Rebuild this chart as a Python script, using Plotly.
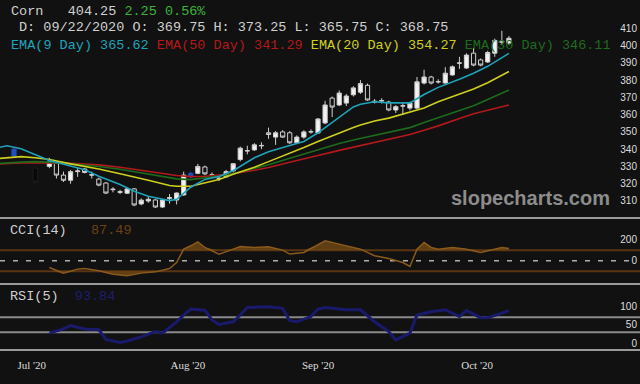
import numpy as np
import plotly.graph_objects as go

# ---------------- data ----------------
bar_idx = list(range(71))
bar_open = [336, None, None, 329, None, 330, 332, 325, 322, 327,
            328.5, 325.3, 322.7, 320.4, 316.9, 315.5, 314.5, 317, 308.3, 310,
            310.6, 306.5, 311.5, 310.6, 313.5, 324, 326, 329.7, 325.2, 323.2,
            324, 327.4, 334, 339.2, 339.6, 342.2, 349.5, 347, 350, 349.5,
            343.7, 347, 350.2, 349.4, 355.2, 369.6, 365.6, 366.7, 371.5, 373,
            377, 367.8, 368.2, 367.3, 362.7, 365.2, 363.8, 363.8, 378.3, 381.8,
            379.2, 378.3, 383, 390, 387, 395.6, 391.7, 390.5, 395.6, 402.5, 401.5]
bar_high = [341, None, None, 330, None, 335, 333, 327, 328, 329,
            329, 327, 323.5, 321, 318, 316.5, 318, 317.5, 311.5, 312.5,
            311, 311, 314, 315, 327, 327, 331.5, 330.5, 326.5, 324.5,
            328, 332, 341.5, 342, 343.5, 344, 352.5, 350.5, 351, 350.5,
            348, 351, 351.5, 358, 368, 370.5, 374, 372, 376.5, 380,
            378, 369, 369.5, 368, 365.5, 366.7, 367.5, 381.8, 386, 382.5,
            380.5, 387.5, 388.5, 393.5, 395.5, 398.5, 392.5, 397, 404, 408.6, 405.5]
bar_low = [335, None, None, 320, None, 329, 323, 321, 320, 324,
           326, 323, 318.5, 314, 315, 314, 314, 307, 307.5, 309,
           306, 306, 308.5, 308, 313, 323, 325.5, 325, 323.5, 321.5,
           323.5, 326.5, 333, 337, 339, 340, 346, 342.5, 346.5, 343,
           343, 346, 349, 349, 354.5, 358.6, 365, 365, 370.5, 372,
           368, 366.5, 366.5, 362, 361, 359.8, 362.5, 363, 377.5, 377.5,
           378, 378, 382.5, 386.5, 386.5, 388, 388, 390, 393.5, 400.5, 400.5]
bar_close = [340, None, None, 321, None, 333, 325, 322, 327, 327.4,
             326.5, 325, 319.2, 314.6, 316.6, 315, 317, 307.7, 310.5, 311,
             306.5, 310.6, 312, 314.6, 325, 326, 330, 325.7, 325, 323,
             327, 331.6, 340.6, 339, 342.5, 342, 348.5, 349.5, 347, 343.7,
             347, 350, 350, 357.5, 365.6, 364.4, 372.5, 370.8, 375.5, 378,
             368.5, 367.3, 368, 362.7, 364.6, 365, 366.7, 379, 381.8, 378.3,
             379, 384, 387.7, 389.8, 394.5, 388.7, 388.7, 396, 403, 402, 404.25]
blue_bars = [0, 25]
dim_bars = [3]

ema_idx = [-2, -1, 1, 3, 5, 8, 10, 12, 15, 17, 19, 22, 23, 25, 27, 29, 31, 34,
           36, 39, 41, 43, 46, 48, 49, 51, 53, 56, 58, 60, 63, 65, 67, 70]
ema9 = [341.1, 342, 340.3, 337, 333.4, 330.3, 328.1, 324.3, 319.5, 315.7, 312.8, 310.2,
        311, 318, 322.5, 324.2, 327.5, 335, 338.5, 342.1, 344.5, 349.5, 358.2, 364.5,
        366, 367.5, 366.8, 366.8, 371.7, 375.8, 380.5, 384, 388, 395.5]
ema20 = [334.7, 335, 335.7, 335, 334, 331.5, 330, 328.5, 325.8, 324, 322, 319,
         318.5, 318.5, 320.5, 322.5, 325.5, 329.5, 332.8, 337.5, 341, 344.5, 349.5, 352.5,
         354, 356.3, 358, 361.3, 363.8, 367.5, 371.8, 374.8, 378.5, 385]
ema30 = [331.8, 332.1, 332.5, 332.8, 332.5, 331.5, 330.8, 330, 328.4, 327, 325.4, 323.2,
         322.8, 322.4, 323.3, 324.5, 325.8, 328.8, 331, 334.8, 337.2, 339.8, 343.3, 345.3,
         346.2, 348.2, 350, 352.5, 355.5, 358.2, 362.2, 365.2, 368.8, 374.3]
ema50 = [331.4, 331.7, 332, 332.2, 332.1, 331.8, 331.4, 330.9, 329.5, 328.3, 327, 325.3,
         324.8, 324.1, 324.3, 325, 325.8, 327.8, 329.4, 332.4, 334.2, 336.3, 339.3, 341.1,
         342, 344, 345.8, 348.5, 351, 353.5, 357.8, 360.5, 362.5, 365.6]

cci_idx = [5, 7, 9, 10, 12, 14, 16, 18, 20, 22, 23, 24, 25, 26, 27, 29, 31, 32, 34, 36,
           38, 39, 41, 43, 44, 46, 48, 49, 51, 53, 55, 56, 57, 58, 59, 60, 62, 64, 66, 68,
           69, 70]
cci_val = [-64, -117, -79, -73, -95, -127, -143, -117, -105, -73, -16, 111, 143, 181, 127,
           64, 111, 136, 127, 133, 102, 64, 79, 150, 190, 159, 127, 111, 48, 22, -16, -54,
           111, 174, 127, 111, 127, 111, 79, 111, 127, 117]
cci_levels = [100, -100]

rsi_idx = [5, 7, 8, 10, 12, 13, 15, 16, 18, 20, 21, 23, 24, 25, 27, 28, 29, 31, 32, 33,
           36, 38, 39, 40, 42, 43, 44, 47, 49, 51, 53, 54, 56, 57, 59, 61, 63, 64, 66, 67,
           69, 70]
rsi_val = [28, 39, 48, 39, 37, 11, 3, 7, 18, 32, 28, 58, 76, 92, 89, 63, 51, 58, 76, 96,
           98, 94, 61, 58, 72, 92, 96, 90, 90, 58, 32, 10, 28, 76, 85, 90, 72, 88, 69, 69,
           81, 88]
rsi_levels = [70, 30]

month_labels = ["Jul '20", "Aug '20", "Sep '20", "Oct '20"]
month_pos = [2.5, 24.6, 43, 65.5]

price_ticks = [310, 320, 330, 340, 350, 360, 370, 380, 390, 400, 410]
cci_ticks = [0, 200]
rsi_ticks = [0, 50, 100]

symbol = "Corn"
last_price = 404.25
change = 2.25
change_pct = 0.56
info_date = "09/22/2020"
info_ohlc = [369.75, 373.25, 365.75, 368.75]
ema_names = ["EMA(9 Day)", "EMA(50 Day)", "EMA(20 Day)", "EMA(30 Day)"]
ema_last = [365.62, 341.29, 354.27, 346.11]
cci_name, cci_last = "CCI(14)", 87.49
rsi_name, rsi_last = "RSI(5)", 93.84

# ---------------- style ----------------
BG = "#111111"
C_CYAN, C_RED, C_YEL, C_GRN = "#1fa3bb", "#b3191b", "#cfcf1e", "#1d6b1d"
C_CCI, C_CCI_FILL, C_CCI_BAND = "#8a5a1c", "rgba(110,70,20,0.85)", "#5a3412"
C_RSI = "#1a1a6c"
MONO = "Liberation Mono, DejaVu Sans Mono, monospace"
NB = "\u00a0"
FS = "\u2007"
W, H = 640, 384


def py(px):
    return 1 - px / H


def sel(lst, keep):
    return [lst[i] for i in bar_idx if keep(i) and lst[i] is not None]


fig = go.Figure()


def add_candles(keep, inc_fill, dec_fill, line_col):
    fig.add_trace(go.Candlestick(
        x=sel(bar_idx, keep), open=sel(bar_open, keep), high=sel(bar_high, keep),
        low=sel(bar_low, keep), close=sel(bar_close, keep),
        increasing=dict(fillcolor=inc_fill, line=dict(color=line_col, width=1)),
        decreasing=dict(fillcolor=dec_fill, line=dict(color=line_col, width=1)),
        whiskerwidth=0, xaxis="x", yaxis="y", hoverinfo="skip", showlegend=False))


add_candles(lambda i: i not in blue_bars and i not in dim_bars and bar_open[i] is not None,
            "#f2f2f2", BG, "#cfcfcf")
add_candles(lambda i: i in blue_bars, "#1f4fbf", "#1f4fbf", "#1f4fbf")
add_candles(lambda i: i in dim_bars, "#070707", "#070707", "#1c1c1c")

for vals, col in [(ema50, C_RED), (ema30, C_GRN), (ema20, C_YEL), (ema9, C_CYAN)]:
    fig.add_trace(go.Scatter(x=ema_idx, y=vals, mode="lines", line=dict(color=col, width=1.6),
                             xaxis="x", yaxis="y", hoverinfo="skip", showlegend=False))

# CCI with fills beyond the bands
cci_arr = np.array(cci_val, dtype=float)
for lvl, clipped in [(cci_levels[0], np.maximum(cci_arr, cci_levels[0])),
                     (cci_levels[1], np.minimum(cci_arr, cci_levels[1]))]:
    fig.add_trace(go.Scatter(x=cci_idx, y=[lvl] * len(cci_idx), mode="lines",
                             line=dict(width=0), xaxis="x", yaxis="y2",
                             hoverinfo="skip", showlegend=False))
    fig.add_trace(go.Scatter(x=cci_idx, y=clipped, mode="lines", line=dict(width=0),
                             fill="tonexty", fillcolor=C_CCI_FILL, xaxis="x", yaxis="y2",
                             hoverinfo="skip", showlegend=False))
fig.add_trace(go.Scatter(x=cci_idx, y=cci_val, mode="lines", line=dict(color=C_CCI, width=1.5),
                         xaxis="x", yaxis="y2", hoverinfo="skip", showlegend=False))

fig.add_trace(go.Scatter(x=rsi_idx, y=rsi_val, mode="lines", line=dict(color=C_RSI, width=3),
                         xaxis="x", yaxis="y3", hoverinfo="skip", showlegend=False))

# ---------------- shapes ----------------
shapes = []
for lvl in cci_levels:
    shapes.append(dict(type="line", xref="paper", x0=0, x1=1, yref="y2", y0=lvl, y1=lvl,
                       line=dict(color=C_CCI_BAND, width=2), layer="below"))
shapes.append(dict(type="line", xref="paper", x0=0, x1=0.995, yref="y2", y0=0, y1=0,
                   line=dict(color="#b0b0b0", width=1.5, dash="5px,8px"), layer="below"))
for lvl in rsi_levels:
    shapes.append(dict(type="line", xref="paper", x0=0, x1=1, yref="y3", y0=lvl, y1=lvl,
                       line=dict(color="#8a8a8a", width=2), layer="below"))
for px in [218, 284, 350]:
    shapes.append(dict(type="line", xref="paper", x0=0, x1=1, yref="paper", y0=py(px), y1=py(px),
                       line=dict(color="#9a9a9a", width=2)))

# ---------------- annotations ----------------
def ann(xpx, ypx, text, size=13.5, color="#d0d0d0", family=MONO, xanchor="left"):
    return dict(xref="paper", yref="paper", x=xpx / W, y=py(ypx), xanchor=xanchor,
                yanchor="middle", showarrow=False, text=text,
                font=dict(family=family, size=size, color=color))


line1 = (f"{symbol}{NB*3}{last_price:.2f}{NB}"
         f"<span style='color:#3cb43c'>{change:.2f}{NB}{change_pct:.2f}%</span>")
o, h, l, c = info_ohlc
line2 = f"D:{NB}{info_date}{NB}O:{NB}{o:.2f}{NB}H:{NB}{h:.2f}{NB}L:{NB}{l:.2f}{NB}C:{NB}{c:.2f}"
ema_cols = [C_CYAN, C_RED, C_YEL, C_GRN]
line3 = NB.join(f"<span style='color:{col}'>{n.replace(' ', NB)}{NB}{v:.2f}</span>"
                for n, v, col in zip(ema_names, ema_last, ema_cols))

annotations = [
    ann(9, 11, line1),
    ann(17, 28, line2),
    ann(9, 45, line3),
    ann(8, 230, f"{cci_name}{NB*3}<span style='color:#6b4212'>{cci_last:.2f}</span>"),
    ann(8, 296, f"{rsi_name}{NB*2}<span style='color:#1e1e70'>{rsi_last:.2f}</span>"),
    ann(530, 198, "<b>slopecharts.com</b>", size=20, color="#8c8c8c",
        family="Liberation Sans, Arial, sans-serif", xanchor="center"),
]

tickfont = dict(family="Liberation Sans, Arial, sans-serif", size=10, color="#dddddd")
yax_common = dict(side="right", ticklabelposition="inside", showgrid=False, zeroline=False,
                  showline=False, ticks="", tickfont=tickfont, anchor="x", fixedrange=True)


def rtext(vals):
    return [str(v).rjust(3, FS) for v in vals]


fig.update_layout(
    width=W, height=H, margin=dict(l=0, r=0, t=0, b=0),
    paper_bgcolor=BG, plot_bgcolor=BG, showlegend=False, boxgap=0.15,
    xaxis=dict(range=[-1.98, 88.54], anchor="y3", showgrid=False, zeroline=False,
               showline=False, ticks="outside", ticklen=5, tickcolor=BG,
               tickvals=month_pos, ticktext=month_labels,
               tickfont=dict(family="Liberation Serif, Times New Roman, serif", size=11,
                             color="#dddddd"),
               rangeslider=dict(visible=False)),
    yaxis=dict(domain=[py(218), 1], range=[300.15, 426.4], tickvals=price_ticks, **yax_common),
    yaxis2=dict(domain=[py(283), py(219)], range=[-211, 398], tickvals=cci_ticks,
                ticktext=rtext(cci_ticks), **yax_common),
    yaxis3=dict(domain=[py(350), py(285)], range=[-17, 156], tickvals=rsi_ticks,
                ticktext=rtext(rsi_ticks), **yax_common),
    shapes=shapes, annotations=annotations,
)

fig.write_html("out.html", config={"displayModeBar": False, "staticPlot": True},
               post_script="document.body.style.margin='0px';"
                           "document.body.style.background='#111111';")
